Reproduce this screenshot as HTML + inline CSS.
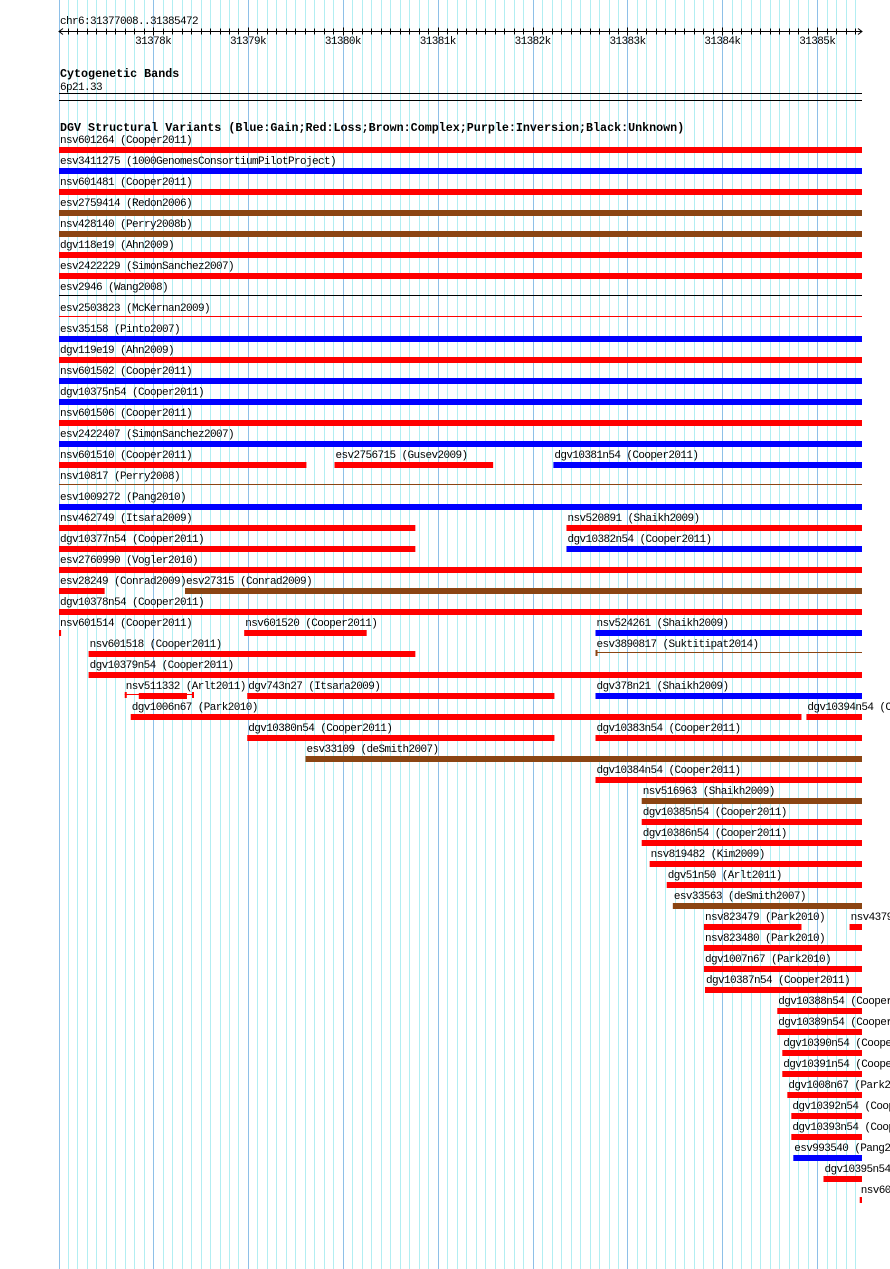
<!DOCTYPE html>
<html><head><meta charset="utf-8"><style>
html,body{margin:0;padding:0;background:#fff;}
svg{display:block;}
text{font-family:"Liberation Mono","DejaVu Sans Mono",monospace;font-size:11px;letter-spacing:-0.6px;fill:#000;}
.b{font-weight:bold;font-size:11.7px;letter-spacing:0;}
</style></head><body>
<svg id="chart" width="890" height="1269" xmlns="http://www.w3.org/2000/svg">
<defs><clipPath id="trk"><rect x="59" y="0" width="803" height="1269"/></clipPath></defs>
<g id="grid"></g>
<g id="ruler">
<text x="60" y="24">chr6:31377008..31385472</text>
</g>
<text class="b" x="60" y="77">Cytogenetic Bands</text>
<text x="60" y="90">6p21.33</text>
<line x1="59" x2="862" y1="93.5" y2="93.5" stroke="#000"/>
<line x1="59" x2="862" y1="100.5" y2="100.5" stroke="#000"/>
<text class="b" x="60" y="131">DGV Structural Variants (Blue:Gain;Red:Loss;Brown:Complex;Purple:Inversion;Black:Unknown)</text>
<g id="feats"></g>
</svg>
<script>
const viewStart = 31377008, viewEnd = 31385472;
const names = ["nsv601264 (Cooper2011)","esv3411275 (1000GenomesConsortiumPilotProject)","nsv601481 (Cooper2011)","esv2759414 (Redon2006)","nsv428140 (Perry2008b)","dgv118e19 (Ahn2009)","esv2422229 (SimonSanchez2007)","esv2946 (Wang2008)","esv2503823 (McKernan2009)","esv35158 (Pinto2007)","dgv119e19 (Ahn2009)","nsv601502 (Cooper2011)","dgv10375n54 (Cooper2011)","nsv601506 (Cooper2011)","esv2422407 (SimonSanchez2007)",
"nsv601510 (Cooper2011)","esv2756715 (Gusev2009)","dgv10381n54 (Cooper2011)","nsv10817 (Perry2008)","esv1009272 (Pang2010)","nsv462749 (Itsara2009)","nsv520891 (Shaikh2009)","dgv10377n54 (Cooper2011)","dgv10382n54 (Cooper2011)","esv2760990 (Vogler2010)","esv28249 (Conrad2009)","esv27315 (Conrad2009)","dgv10378n54 (Cooper2011)",
"nsv601514 (Cooper2011)","nsv601520 (Cooper2011)","nsv524261 (Shaikh2009)","nsv601518 (Cooper2011)","esv3890817 (Suktitipat2014)","dgv10379n54 (Cooper2011)","nsv511332 (Arlt2011)","dgv743n27 (Itsara2009)","dgv378n21 (Shaikh2009)","dgv1006n67 (Park2010)","dgv10394n54 (Cooper2011)","dgv10380n54 (Cooper2011)","dgv10383n54 (Cooper2011)","esv33109 (deSmith2007)","dgv10384n54 (Cooper2011)",
"nsv516963 (Shaikh2009)","dgv10385n54 (Cooper2011)","dgv10386n54 (Cooper2011)","nsv819482 (Kim2009)","dgv51n50 (Arlt2011)","esv33563 (deSmith2007)","nsv823479 (Park2010)","nsv437925 (Perry2008)","nsv823480 (Park2010)","dgv1007n67 (Park2010)","dgv10387n54 (Cooper2011)","dgv10388n54 (Cooper2011)","dgv10389n54 (Cooper2011)","dgv10390n54 (Cooper2011)","dgv10391n54 (Cooper2011)","dgv1008n67 (Park2010)","dgv10392n54 (Cooper2011)","dgv10393n54 (Cooper2011)","esv993540 (Pang2010)","dgv10395n54 (Cooper2011)","nsv601516 (Cooper2011)"];
const rows = [0,1,2,3,4,5,6,7,8,9,10,11,12,13,14,15,15,15,16,17,18,18,19,19,20,21,21,22,23,23,23,24,24,25,26,26,26,27,27,28,28,29,30,31,32,33,34,35,36,37,37,38,39,40,41,42,43,44,45,46,47,48,49,50];
const starts = [31376900,31376900,31376900,31376900,31376900,31376900,31376900,31376900,31376900,31376900,31376900,31376900,31376900,31376900,31376900,
31376900,31379912,31382219,31376900,31376900,31376900,31382357,31376900,31382357,31376900,31376900,31378336,31376900,
31376900,31378960,31382663,31377320,31382663,31377320,31377701,31378992,31382663,31377764,31384886,31378992,31382663,31379606,31382663,
31383150,31383150,31383150,31383234,31383414,31383478,31383806,31385341,31383806,31383806,31383817,31384579,31384579,31384632,31384632,31384685,31384727,31384727,31384748,31385066,31385448];
const ends = [31385600,31385600,31385600,31385600,31385600,31385600,31385600,31385600,31385600,31385600,31385600,31385600,31385600,31385600,31385600,
31379616,31381584,31385600,31385600,31385600,31380764,31385600,31380764,31385600,31385600,31377489,31385600,31385600,
31377030,31380251,31385600,31380764,31385600,31385600,31378431,31382230,31385600,31384834,31385600,31382230,31385600,31385600,31385600,
31385600,31385600,31385600,31385600,31385600,31385600,31384834,31385600,31385600,31385600,31385600,31385600,31385600,31385600,31385600,31385600,31385600,31385600,31385600,31385600,31385600];
const thickStarts = {34:31377849};
const thickEnds = {34:31378357};
const colors = ["red","blue","red","brown","brown","red","red","black","red","blue","red","blue","blue","red","blue",
"red","red","blue","brown","blue","red","red","red","blue","red","red","brown","red",
"red","red","blue","red","brown","red","red","red","blue","red","red","red","red","brown","red",
"brown","red","red","red","red","brown","red","red","red","red","red","red","red","red","red","red","red","red","blue","red","red"];
const thinOnly = [7,8,18,32];
const majorTicks = [31378000,31379000,31380000,31381000,31382000,31383000,31384000,31385000];
const majorLabels = ["31378k","31379k","31380k","31381k","31382k","31383k","31384k","31385k"];

const NS="http://www.w3.org/2000/svg";
const X0=59, X1=862;
const ppb = (X1-X0)/(viewEnd-viewStart);
function xs(p){return X0+(p-viewStart)*ppb;}
function rowY(r){return 147+21*r;}
const palette={red:"#ff0000",blue:"#0000ff",brown:"#8b4513",black:"#000000"};
function mk(tag,attrs,parent){const e=document.createElementNS(NS,tag);for(const k in attrs)e.setAttribute(k,attrs[k]);parent.appendChild(e);return e;}

const grid=document.getElementById('grid');
for(let p=31377100;p<viewEnd;p+=100){
  const major=p%1000===0;
  const l=mk('line',{x1:Math.round(xs(p))+0.5,x2:Math.round(xs(p))+0.5,y1:0,y2:1269,stroke:major?"#8ec0e8":"#b2eef2"},grid);
  
  
}
const edge=mk('line',{x1:59.5,x2:59.5,y1:0,y2:1269,stroke:"#8ec0e8"},grid);



const ruler=document.getElementById('ruler');
const ry=31.5;
const axl=mk('line',{x1:X0,x2:X1,y1:ry,y2:ry,stroke:"#000"},ruler);


const arr=mk('path',{d:`M${X0+4} ${ry-3}L${X0} ${ry}L${X0+4} ${ry+3}M${X1-4} ${ry-3}L${X1} ${ry}L${X1-4} ${ry+3}`,stroke:"#000",fill:"none"},ruler);


for(let p=31377100;p<viewEnd;p+=100){
  const x=Math.round(xs(p))+0.5;const major=p%1000===0;
  const t=mk('line',{x1:x,x2:x,y1:major?ry-4:ry-3,y2:major?ry+4:ry+3,stroke:"#000"},ruler);
  
  
}
majorTicks.forEach((p,i)=>{
  const t=mk('text',{x:xs(p),y:44,'text-anchor':'middle'},ruler);
  t.textContent=majorLabels[i];
  
  
});

const feats=document.getElementById('feats');
const clipG=mk('g',{'clip-path':'url(#trk)'},feats);
names.forEach((n,i)=>{
  const y=rowY(rows[i]);const c=palette[colors[i]];
  const a=Math.max(X0,xs(starts[i])), b=Math.min(X1,xs(ends[i]));
  const lab=mk('text',{x:Math.max(X0,xs(starts[i]))+1,y:y-4},feats);
  lab.textContent=n;
  
  
  if(thinOnly.includes(i) || thickEnds[i]!==undefined){
    const ln=mk('rect',{x:a,y:y+1,width:Math.max(1,b-a),height:1,fill:c},clipG);
    
    
    if(xs(starts[i])>=X0){const cp=mk('rect',{x:a,y:y-1,width:2,height:6,fill:c},clipG);}
    if(xs(ends[i])<=X1){const cp=mk('rect',{x:b-2,y:y-1,width:2,height:6,fill:c},clipG);}
    if(thickEnds[i]!==undefined){
      const ta=xs(thickStarts[i]), tb=xs(thickEnds[i]);
      const r=mk('rect',{x:ta,y:y,width:tb-ta,height:6,fill:c},clipG);
      
      
    }
  } else {
    const r=mk('rect',{x:a,y:y,width:Math.max(2,b-a),height:6,fill:c},clipG);
    
    
  }
});
</script>
</body></html>
